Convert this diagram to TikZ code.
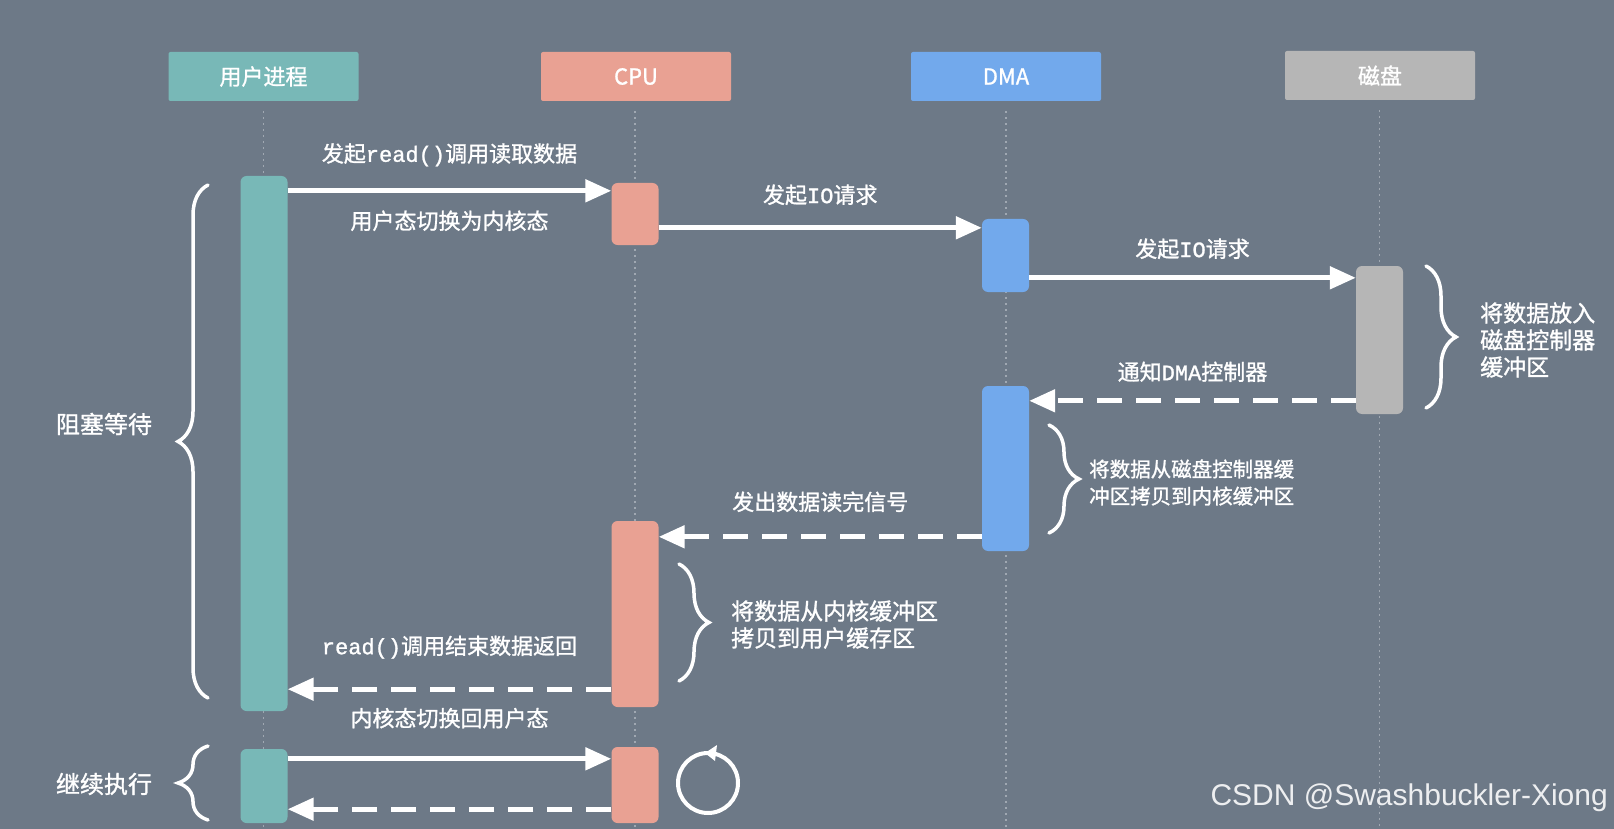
\documentclass[tikz,border=0pt]{standalone}
\usepackage{fontspec}
\setmainfont{Noto Sans CJK SC}[FakeBold=1.2]
\setmonofont{Liberation Mono}[FakeBold=1.2]
\newfontfamily\wmfont{Liberation Sans}
\usepackage{tikz}
\usetikzlibrary{arrows.meta, positioning, decorations.pathreplacing, calc}
\definecolor{bgslate}{RGB}{109, 121, 135}
\definecolor{teal}{RGB}{120, 184, 183}
\definecolor{salmon}{RGB}{233, 161, 147}
\definecolor{skyblue}{RGB}{114, 169, 236}
\definecolor{diskgray}{RGB}{182, 182, 182}
\definecolor{dotgray}{RGB}{160, 168, 178}

\begin{document}
\begin{tikzpicture}[
  x=1pt, y=-1pt,
  head/.style={rounded corners=2pt, minimum width=190pt, minimum height=49pt, inner sep=0pt, text=white, font=\fontsize{22}{22}\selectfont},
  bar/.style={rounded corners=6pt, minimum width=47pt, inner sep=0pt},
  life/.style={draw=dotgray, line width=1.5pt, dash pattern=on 2pt off 4pt},
  msg/.style={draw=white, line width=5pt, -{Triangle[length=26pt,width=22pt]}},
  ret/.style={msg, dash pattern=on 25pt off 14pt},
  lbl/.style={text=white, font=\fontsize{22}{22}\selectfont, inner sep=0pt},
  note/.style={text=white, font=\fontsize{23}{27}\selectfont, align=left, anchor=west, inner sep=0pt},
  brc/.style={draw=white, line width=3.5pt, line cap=round, decorate, decoration={brace, amplitude=30pt}}
]
  \fill[bgslate] (0,0) rectangle (1614,829);
  \useasboundingbox (0,0) rectangle (1614,829);

  % Headers
  \node[head, fill=teal] (user) at (263.5, 76.5) {用户进程};
  \node[head, fill=salmon] (cpu) at (636, 76.5) {CPU};
  \node[head, fill=skyblue] (dma) at (1006, 76.5) {DMA};
  \node[head, fill=diskgray] (disk) at (1380, 75.5) {磁盘};

  % Lifelines
  \coordinate (userend) at (263.5, 829);
  \coordinate (cpuend) at (635, 829);
  \coordinate (dmaend) at (1006, 829);
  \coordinate (diskend) at (1379.5, 829);
  \draw[life] ([yshift=-10pt]user.south) -- (userend);
  \draw[life] ([yshift=-10pt]cpu.south -| cpuend) -- (cpuend);
  \draw[life] ([yshift=-10pt]dma.south) -- (dmaend);
  \draw[life] ([yshift=-10pt]disk.south -| diskend) -- (diskend);

  % Activation bars
  \node[bar, fill=teal, minimum height=535pt] (userA) at (264, 443.5) {};
  \node[bar, fill=salmon, minimum height=62pt] (cpuA) at (635, 214) {};
  \node[bar, fill=skyblue, minimum height=73pt] (dmaA) at (1005.5, 255.5) {};
  \node[bar, fill=diskgray, minimum height=148pt] (diskA) at (1379.5, 340) {};
  \node[bar, fill=skyblue, minimum height=165pt] (dmaB) at (1005.5, 468.5) {};
  \node[bar, fill=salmon, minimum height=186pt] (cpuB) at (635, 614) {};
  \node[bar, fill=teal, minimum height=74pt] (userB) at (264, 786) {};
  \node[bar, fill=salmon, minimum height=76pt] (cpuC) at (635, 785) {};

  % Messages
  \coordinate (m1) at ([yshift=-8pt]cpuA.north west);
  \coordinate (m2) at ([yshift=-9pt]dmaA.north west);
  \coordinate (m3) at ([yshift=-12pt]diskA.north west);
  \coordinate (m4) at ([yshift=-15pt]dmaB.north east);
  \coordinate (m5) at ([yshift=-16pt]cpuB.north east);
  \coordinate (m6) at ([yshift=22pt]userA.south east);
  \coordinate (m7) at ([yshift=-12pt]cpuC.north west);
  \coordinate (m8) at ([yshift=14pt]userB.south east);

  \draw[msg] (userA.east |- m1) -- node[lbl, yshift=36pt] {发起\texttt{read()}调用读取数据}
    node[lbl, yshift=-30pt] {用户态切换为内核态} (m1);
  \draw[msg] (cpuA.east |- m2) -- node[lbl, yshift=33pt] {发起\texttt{IO}请求} (m2);
  \draw[msg] (dmaA.east |- m3) -- node[lbl, yshift=29pt] {发起\texttt{IO}请求} (m3);
  \draw[ret] (diskA.west |- m4) -- node[lbl, yshift=29pt] {通知\texttt{DMA}控制器} (m4);
  \draw[ret] (dmaB.west |- m5) -- node[lbl, yshift=35pt] {发出数据读完信号} (m5);
  \draw[ret] (cpuB.west |- m6) -- node[lbl, yshift=42pt] {\texttt{read()}调用结束数据返回}
    node[lbl, yshift=-29pt] {内核态切换回用户态} (m6);
  \draw[msg] (userB.east |- m7) -- (m7);
  \draw[ret] (cpuC.west |- m8) -- (m8);

  % Braces
  \draw[brc] (208, 698) -- (208, 185);
  \node[note, anchor=center, font=\fontsize{24}{24}\selectfont] (block) at (104, 424) {阻塞等待};
  \draw[brc] (208, 820) -- (208, 746);
  \node[note, anchor=center, font=\fontsize{24}{24}\selectfont] (resume) at (104, 784) {继续执行};
  \draw[brc] (1426, 266) -- (1426, 408);
  \node[note] (diskcopy) at (1480, 340) {将数据放入\\磁盘控制器\\缓冲区};
  \draw[brc] (1049, 425) -- (1049, 533);
  \node[note, font=\fontsize{20.5}{27}\selectfont] (dmacopy) at (1089, 482.5) {将数据从磁盘控制器缓\\冲区拷贝到内核缓冲区};
  \draw[brc] (679, 564) -- (679, 681);
  \node[note] (cpucopy) at (731, 624.5) {将数据从内核缓冲区\\拷贝到用户缓存区};

  % Loop icon
  \coordinate (loop) at (708, 783);
  \draw[white, line width=4pt] (loop) circle (30pt);
  \fill[white] (705, 753) -- (717, 745) -- (715, 761) -- cycle;

  % Watermark
  \node[anchor=east, text=white, opacity=0.88, font=\wmfont\fontsize{30}{30}\selectfont, inner sep=0pt] (mark) at (1608, 798) {CSDN @Swashbuckler-Xiong};
\end{tikzpicture}
\end{document}
